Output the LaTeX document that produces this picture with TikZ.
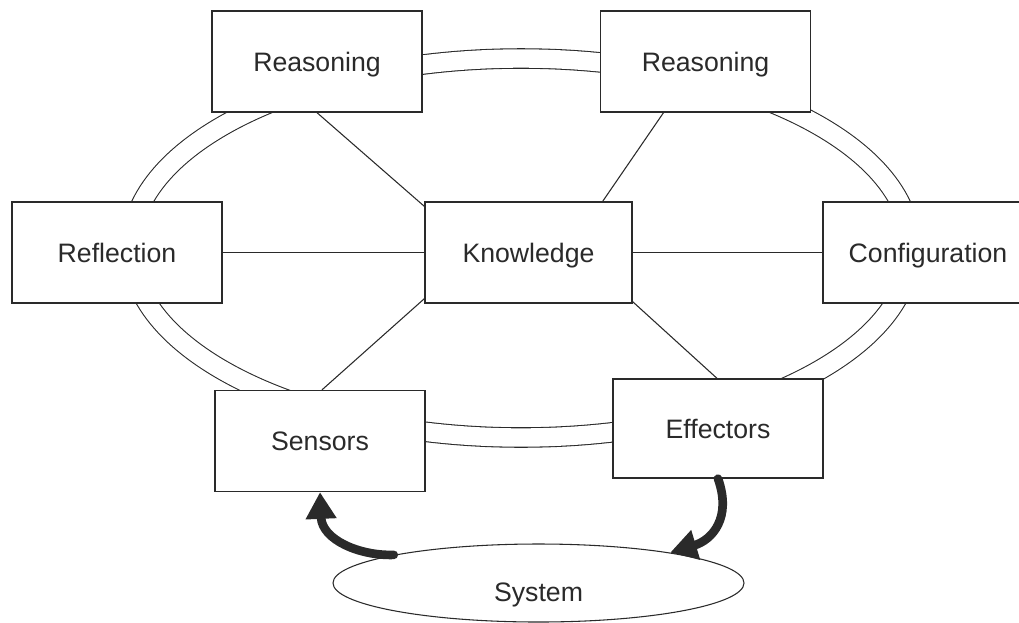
\documentclass[tikz,border=0pt]{standalone}
\usepackage{fontspec}
\setmainfont{Liberation Sans}
\usetikzlibrary{arrows.meta,calc,shapes.geometric}
\definecolor{ink}{HTML}{2A2A2A}
\begin{document}
\begin{tikzpicture}[x=0.75pt,y=-0.75pt,
  label font/.style={font=\fontsize{20}{24}\selectfont, text=ink},
  box/.style={draw=ink, line width=1pt, fill=white, minimum width=157.5pt,
    minimum height=75.75pt, inner sep=0pt, label font,
    text height=14.3pt, text depth=0pt},
  link/.style={draw=ink, line width=0.8pt},
  flow/.style={draw=ink, line width=6.5pt, line cap=round,
    -{Triangle[length=20pt,width=22pt]}}]
\useasboundingbox (0,0) rectangle (1019,622);
\clip (0,0) rectangle (1019,622);

% double ring joining the outer boxes
\node[ellipse, draw=ink, line width=0.8pt, double, double distance=13.8pt,
      minimum width=585.4pt, minimum height=284.25pt, inner sep=0pt] (ring) at (521,248) {};

% boxes
\node[box] (r1)   at (317,61.5)   {Reasoning};
\node[box] (r2)   at (705.5,61.5) {Reasoning};
\node[box] (refl) at (117,252.5)  {Reflection};
\node[box, minimum width=155.25pt] (know) at (528.5,252.5) {Knowledge};
\node[box] (conf) at (928,252.5)  {Configuration};
\node[box] (sens) at (320,441)    {Sensors};
\node[box, minimum height=74.25pt] (eff) at (718,428.5) {Effectors};

% links to the knowledge box
\draw[link] (r1.south) -- ($(know.north west)+(0,5)$);
\draw[link] ($(r2.south)+(-42,0)$) -- ($(know.north east)+(-30,0)$);
\draw[link] (refl.east) -- (know.west);
\draw[link] (know.east) -- (conf.west);
\draw[link] ($(know.south west)+(0,-5)$) -- ($(sens.north)+(2,0)$);
\draw[link] ($(know.south east)+(0,-2)$) -- ($(eff.north)+(-1,0)$);

% controlled system
\node[ellipse, draw=ink, line width=0.8pt, fill=white, minimum width=308.25pt,
      minimum height=58.5pt, inner sep=0pt, label font,
      text height=27pt, text depth=0pt] (sys) at (538.5,583) {System};

% feedback loop
\draw[flow] (sys.169) .. controls (360,556) and (322,540) .. (sens.south);
\draw[flow] (eff.south) .. controls (732,518) and (712,540) .. (sys.13);
\end{tikzpicture}
\end{document}
